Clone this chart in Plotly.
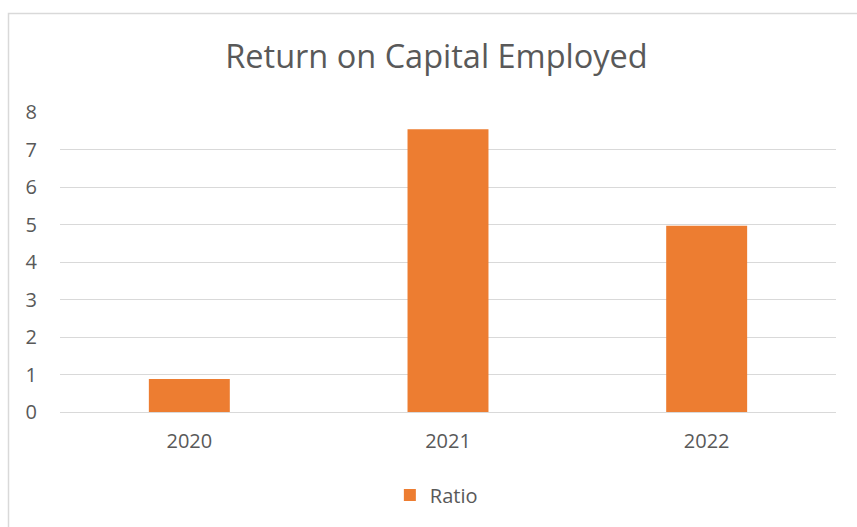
import plotly.graph_objects as go

# Return on capital employed by year
years = ["2020", "2021", "2022"]
ratio = [0.88, 7.54, 4.97]
y_ticks = [0, 1, 2, 3, 4, 5, 6, 7, 8]

W, H = 857, 527
L, R, T, B = 60, 21, 112, 115
plot_w = W - L - R
plot_h = H - T - B

fig = go.Figure()
fig.add_trace(go.Bar(
    x=years, y=ratio, name="Ratio",
    marker=dict(color="#ED7D31", line=dict(width=0)),
    showlegend=True,
))

grey = "#595959"
font_family = "Open Sans, Liberation Sans, sans-serif"
tick_size = 20

fig.update_layout(
    width=W, height=H,
    margin=dict(l=L, r=R, t=T, b=B),
    paper_bgcolor="white", plot_bgcolor="white",
    bargap=0.687,
    font=dict(family=font_family, color=grey, size=tick_size),
    title=dict(
        text="Return on Capital Employed",
        x=(436.5 - L) / plot_w, xanchor="center", xref="paper",
        y=1 - 57 / H, yanchor="middle", yref="container",
        font=dict(size=32.5, color=grey, family=font_family),
    ),
    xaxis=dict(
        showgrid=False, showline=False, zeroline=False,
        ticks="", tickfont=dict(size=tick_size, color=grey),
        ticklabelstandoff=15,
    ),
    yaxis=dict(
        range=[0, 8], tickvals=y_ticks,
        showgrid=True, gridcolor="#d9d9d9", gridwidth=1,
        zeroline=True, zerolinecolor="#d9d9d9", zerolinewidth=1,
        showline=False, ticks="",
        tickfont=dict(size=tick_size, color=grey),
        ticklabelstandoff=22,
    ),
    legend=dict(
        orientation="h", x=0.485, xanchor="center",
        y=-(495 - (T + plot_h)) / plot_h, yanchor="middle",
        font=dict(size=tick_size, color=grey),
        itemwidth=30,
    ),
    shapes=[dict(
        type="rect", xref="paper", yref="paper",
        x0=(8.5 - L) / plot_w, x1=1.2,
        y0=-0.6, y1=(T + plot_h - 13.5) / plot_h,
        line=dict(color="#d9d9d9", width=1.5),
        fillcolor="rgba(0,0,0,0)", layer="below",
    )],
)

fig.write_html("out.html")
